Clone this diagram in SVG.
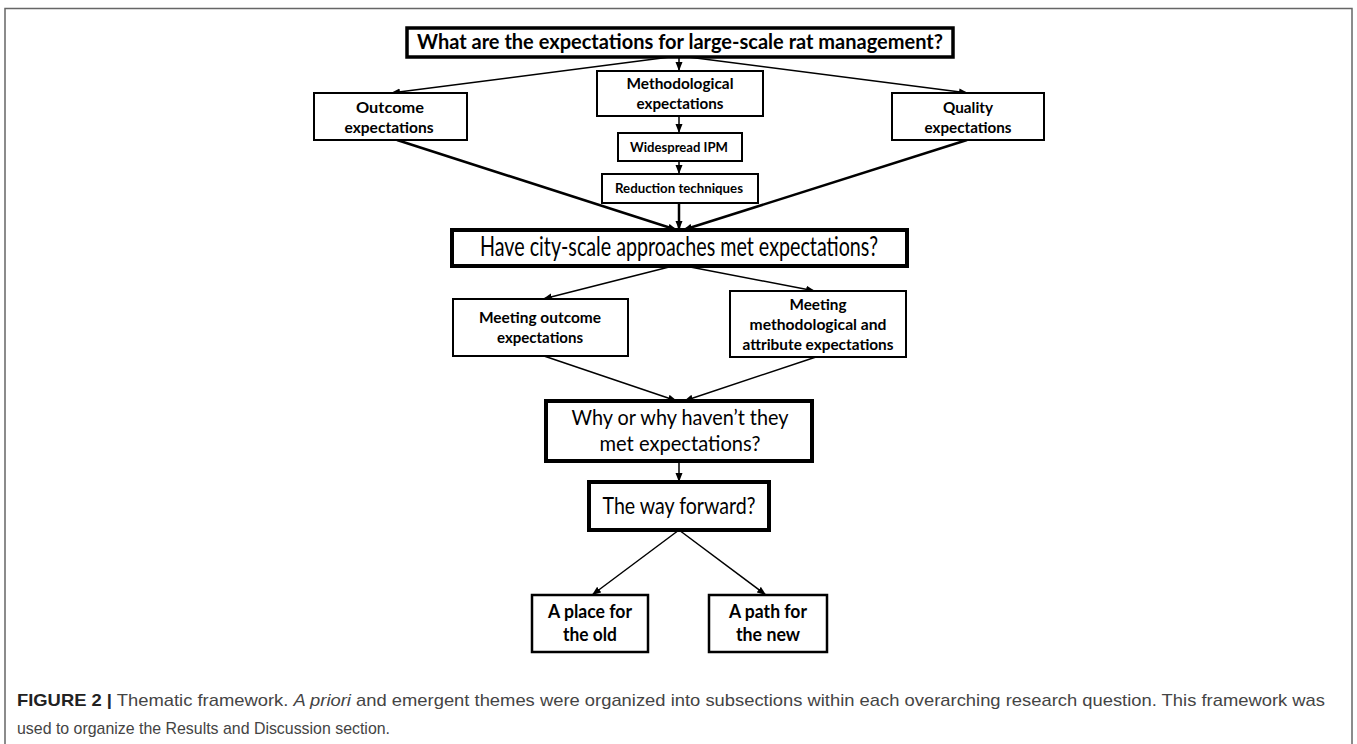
<svg xmlns="http://www.w3.org/2000/svg" width="1357" height="744" viewBox="0 0 1357 744">
<defs>
<marker id="ah" markerUnits="userSpaceOnUse" markerWidth="10" markerHeight="8" refX="9" refY="4" orient="auto">
<path d="M0,0.5 L9,4 L0,7.5 z" fill="#000"/>
</marker>
<style>
.n rect{fill:#fff;stroke:#000}
.thin rect{stroke-width:2}
.thick rect{stroke-width:4}
.b{font-family:Lato,"Open Sans",sans-serif;font-weight:bold;fill:#000;text-anchor:middle}
.r{font-family:Lato,"Open Sans",sans-serif;font-weight:normal;fill:#000;text-anchor:middle}
#connectors line{stroke:#000;fill:none;marker-end:url(#ah)}
.w1{stroke-width:1.5}
.w2{stroke-width:2.5}
.cap{font-family:"Liberation Sans",Arial,sans-serif;font-size:17px;fill:#444}
</style>
</defs>
<rect x="0" y="0" width="1357" height="744" fill="#fff"/>
<rect x="5" y="8.5" width="1347" height="745" fill="none" stroke="#666" stroke-width="1.5"/>

<g id="connectors">
<line class="w1" x1="670" y1="57" x2="391" y2="93"/>
<line class="w1" x1="679" y1="57" x2="679" y2="71"/>
<line class="w1" x1="688" y1="57" x2="968" y2="93"/>
<line class="w1" x1="679" y1="116" x2="679" y2="133"/>
<line class="w1" x1="679" y1="161" x2="679" y2="174"/>
<line class="w2" x1="397" y1="140" x2="677" y2="230"/>
<line class="w2" x1="679" y1="203" x2="679" y2="230"/>
<line class="w2" x1="967" y1="140" x2="683" y2="230"/>
<line class="w1" x1="673" y1="266" x2="543" y2="299"/>
<line class="w1" x1="685" y1="266" x2="815" y2="291"/>
<line class="w1" x1="544" y1="356" x2="677" y2="401"/>
<line class="w1" x1="816" y1="357" x2="684" y2="401"/>
<line class="w1" x1="679" y1="461" x2="679" y2="482"/>
<line class="w1" x1="679" y1="530" x2="592" y2="595"/>
<line class="w1" x1="679" y1="530" x2="766" y2="595"/>
</g>

<g id="n-top" class="n thick">
<rect x="407" y="28" width="546" height="29" style="stroke-width:3.5"/>
<text class="b" x="680" y="49" font-size="21" textLength="526" lengthAdjust="spacingAndGlyphs">What are the expectations for large-scale rat management?</text>
</g>
<g id="n-outcome" class="n thin">
<rect x="314" y="93" width="153" height="47"/>
<text class="b" x="390" y="113" font-size="16" textLength="68" lengthAdjust="spacingAndGlyphs">Outcome</text>
<text class="b" x="389" y="133" font-size="16" textLength="89" lengthAdjust="spacingAndGlyphs">expectations</text>
</g>
<g id="n-method" class="n thin">
<rect x="597" y="71" width="166" height="45"/>
<text class="b" x="680" y="89" font-size="16" textLength="107" lengthAdjust="spacingAndGlyphs">Methodological</text>
<text class="b" x="680" y="109" font-size="16" textLength="87" lengthAdjust="spacingAndGlyphs">expectations</text>
</g>
<g id="n-quality" class="n thin">
<rect x="892" y="93" width="152" height="47"/>
<text class="b" x="968" y="113" font-size="16" textLength="50" lengthAdjust="spacingAndGlyphs">Quality</text>
<text class="b" x="968" y="133" font-size="16" textLength="87" lengthAdjust="spacingAndGlyphs">expectations</text>
</g>
<g id="n-ipm" class="n thin">
<rect x="618" y="133" width="124" height="28"/>
<text class="b" x="679" y="152" font-size="14" textLength="98" lengthAdjust="spacingAndGlyphs">Widespread IPM</text>
</g>
<g id="n-reduction" class="n thin">
<rect x="602" y="174" width="156" height="29"/>
<text class="b" x="679" y="193" font-size="14" textLength="128" lengthAdjust="spacingAndGlyphs">Reduction techniques</text>
</g>
<g id="n-have" class="n thick">
<rect x="452" y="230" width="455" height="36"/>
<text class="r" x="679" y="256" font-size="26" textLength="398" lengthAdjust="spacingAndGlyphs">Have city-scale approaches met expectations?</text>
</g>
<g id="n-meet-outcome" class="n thin">
<rect x="453" y="299" width="175" height="57"/>
<text class="b" x="540" y="323" font-size="16" textLength="122" lengthAdjust="spacingAndGlyphs">Meeting outcome</text>
<text class="b" x="540" y="343" font-size="16" textLength="86" lengthAdjust="spacingAndGlyphs">expectations</text>
</g>
<g id="n-meet-method" class="n thin">
<rect x="730" y="291" width="176" height="66"/>
<text class="b" x="818" y="310" font-size="16" textLength="57" lengthAdjust="spacingAndGlyphs">Meeting</text>
<text class="b" x="818" y="330" font-size="16" textLength="137" lengthAdjust="spacingAndGlyphs">methodological and</text>
<text class="b" x="818" y="350" font-size="16" textLength="151" lengthAdjust="spacingAndGlyphs">attribute expectations</text>
</g>
<g id="n-why" class="n thick">
<rect x="546" y="401" width="266" height="60"/>
<text class="r" x="680" y="425" font-size="21" textLength="217" lengthAdjust="spacingAndGlyphs">Why or why haven’t they</text>
<text class="r" x="680" y="451" font-size="21" textLength="161" lengthAdjust="spacingAndGlyphs">met expectations?</text>
</g>
<g id="n-forward" class="n thick">
<rect x="589" y="482" width="180" height="48"/>
<text class="r" x="679" y="514" font-size="23" textLength="153" lengthAdjust="spacingAndGlyphs">The way forward?</text>
</g>
<g id="n-old" class="n thin">
<rect x="532" y="595" width="116" height="57" style="stroke-width:2.5"/>
<text class="b" x="590" y="618" font-size="18" textLength="84" lengthAdjust="spacingAndGlyphs">A place for</text>
<text class="b" x="590" y="641" font-size="18" textLength="54" lengthAdjust="spacingAndGlyphs">the old</text>
</g>
<g id="n-new" class="n thin">
<rect x="709" y="595" width="118" height="57" style="stroke-width:2.5"/>
<text class="b" x="768" y="618" font-size="18" textLength="78" lengthAdjust="spacingAndGlyphs">A path for</text>
<text class="b" x="768" y="641" font-size="18" textLength="64" lengthAdjust="spacingAndGlyphs">the new</text>
</g>

<g id="caption">
<text class="cap" x="17" y="706" textLength="1308" lengthAdjust="spacingAndGlyphs"><tspan font-weight="bold" fill="#222">FIGURE 2 |</tspan> Thematic framework. <tspan font-style="italic">A priori</tspan> and emergent themes were organized into subsections within each overarching research question. This framework was</text>
<text class="cap" x="17" y="734" textLength="373" lengthAdjust="spacingAndGlyphs">used to organize the Results and Discussion section.</text>
</g>
</svg>
